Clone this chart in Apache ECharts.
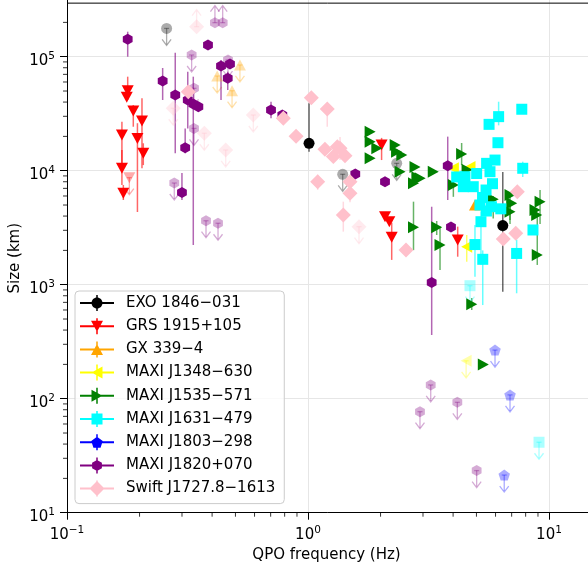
<!DOCTYPE html>
<html>
<head>
<meta charset="utf-8">
<script src="https://cdn.jsdelivr.net/npm/echarts@6/dist/echarts.min.js"></script>
<style>
html, body { margin: 0; padding: 0; background: #fff; }
#chart { width: 588px; height: 568px; }
</style>
</head>
<body>
<div id="chart"></div>
<script>
var FONT = 'DejaVu Sans';

// axis setup (log-log)
var xMin = 0.1, xMax = 100;
var yMin = 10, yMax = 1e6;
var yFrameTop = 2.95e5;          // top spine of the plot
var minorMantissa = [2, 3, 4, 5, 6, 7, 8, 9];
var xDecades = [0.1, 1, 10];
var yDecades = [10, 100, 1000, 10000, 100000];

// data: [QPO freq (Hz), size (km), size low, size high]
var exoDet = [[1.01, 17400, 14700, 39000], [6.43, 3300, 869, 9750]];
var exoUL = [[0.259, 177000], [1.393, 9300], [2.334, 11600]];

var grsDet = [
    [0.1786, 50300, 41700, 66800], [0.177, 44000], [0.1884, 33400, 24300, 37700],
    [0.2047, 27300, 10500, 43200], [0.169, 20600, 10800, 26900], [0.196, 19200, 4340, 26100],
    [0.2073, 14200, 11200, 17400], [0.169, 10500, 7500, 15200], [0.1713, 6340, 5530, 7500],
    [2.02, 16800, 12400, 19400], [2.087, 3950], [2.175, 3570], [2.225, 2610, 1650, 3500],
    [4.18, 2470, 1760, 3230]
];
var grsUL = [[0.1814, 8690]];

var gxDet = [[4.93, 5000]];
var gxUL = [[0.522, 84600], [0.420, 67700], [0.484, 50300]];

var j1348Det = [[4.01, 10500], [4.70, 10800], [4.556, 2150, 1590, 2730]];
var j1348UL = [[4.53, 215]];

var j1535Det = [
    [1.81, 22000], [1.81, 17960], [1.93, 15700], [1.81, 12850],
    [2.30, 16800], [2.33, 14700], [2.45, 13700], [2.78, 10800],
    [2.41, 9800], [2.83, 8750], [2.74, 7750], [2.92, 8570],
    [3.31, 9800], [4.34, 14000, 11200, 17500], [4.01, 7500, 5900, 8500], [4.57, 10200],
    [5.87, 5610, 3800, 6000], [6.89, 6120, 3700, 6500], [7.0, 5180], [6.89, 4370, 3400, 5000],
    [9.18, 5350, 3400, 6770], [8.75, 4520], [8.89, 4090], [8.94, 1820, 1490, 4090],
    [2.74, 3190, 2010, 5350], [3.42, 3190, 2730, 3620], [3.53, 2230, 1345, 3230],
    [4.78, 673, 600, 764], [5.34, 200]
];

var j1631Det = [
    [7.71, 34600], [6.18, 29800, 25000, 40300], [5.64, 25500], [6.14, 17600],
    [5.97, 12400], [5.51, 11600], [7.78, 10500, 8800, 12000], [5.69, 9800],
    [5.01, 9450], [4.48, 8860], [4.14, 8810], [4.41, 7240], [4.85, 7240],
    [5.83, 7690], [5.48, 6770], [5.30, 5820], [5.17, 5000], [5.77, 4830],
    [6.31, 4630], [5.50, 4430], [5.22, 3570, 1500, 4400], [4.93, 2250, 1175, 3340],
    [5.31, 1670, 663, 2000], [7.34, 1880, 841, 2480], [8.58, 3020]
];
var j1631UL = [[9.09, 41.5], [4.70, 980]];

var j1803UL = [[5.97, 267], [6.89, 108], [6.52, 21.4]];

var j1820Det = [
    [0.1786, 142000, 100000, 165700], [0.3846, 126700], [0.4356, 82900, 41700, 93500],
    [0.4745, 86300], [0.4645, 64700, 51000, 73800], [0.2494, 61200, 41700, 79600],
    [0.2813, 46100, 14200, 108400], [0.3170, 41700, 23500, 73800], [0.3342, 38500, 2230, 66800],
    [0.3508, 36400], [0.3093, 15900, 14200, 23500], [0.2999, 6440, 5530, 9540],
    [0.7023, 34100, 28800, 40300], [0.7824, 30800], [1.571, 9350], [2.087, 8010],
    [3.80, 11060, 5530, 19900], [3.92, 3210], [3.26, 1045, 362, 4830]
];
var j1820UL = [
    [0.329, 103500], [0.3365, 52800], [0.3365, 23500], [0.2787, 7800], [0.3774, 3640],
    [0.4233, 3460], [0.4656, 93500], [3.23, 132], [2.915, 76.9], [4.165, 93], [5.01, 23.4]
];
var j1820LL = [[0.411, 198800], [0.4426, 198800]];

var swiftDet = [
    [1.032, 43700], [1.202, 34800, 24300, 37700], [0.892, 20100], [0.790, 28800],
    [1.176, 15400], [1.323, 16200], [1.274, 13300], [1.424, 13500], [1.358, 15700, 12400, 19800],
    [1.097, 8010, 6800, 9200], [1.494, 8010], [1.494, 6340, 5300, 6340], [1.401, 4090, 2920, 5350],
    [2.551, 2020], [7.39, 6540], [6.46, 2520], [7.28, 2820], [0.3186, 49300]
];
var swiftUL = [[0.276, 35300], [0.3713, 21300], [0.4555, 15200], [0.593, 30800], [1.628, 3230]];
var swiftLL = [[0.345, 183400]];

// marker shapes
function regPoly(n, startDeg) {
    var pts = [];
    for (var k = 0; k < n; k++) {
        var a = (startDeg + 360 * k / n) * Math.PI / 180;
        pts.push([Math.cos(a), Math.sin(a)]);
    }
    return pts;
}
function normalize(pts) {
    var x0 = Infinity, x1 = -Infinity, y0 = Infinity, y1 = -Infinity;
    pts.forEach(function (p) {
        x0 = Math.min(x0, p[0]); x1 = Math.max(x1, p[0]);
        y0 = Math.min(y0, p[1]); y1 = Math.max(y1, p[1]);
    });
    return pts.map(function (p) {
        return [2 * (p[0] - x0) / (x1 - x0) - 1, 2 * (p[1] - y0) / (y1 - y0) - 1];
    });
}
var shapes = {
    circle: regPoly(32, 0),
    triDown: [[-1, -1], [1, -1], [0, 1]],
    triUp: [[0, -1], [1, 1], [-1, 1]],
    triLeft: [[-1, 0], [1, -1], [1, 1]],
    triRight: [[1, 0], [-1, 1], [-1, -1]],
    square: [[-1, -1], [1, -1], [1, 1], [-1, 1]],
    diamond: [[0, -1], [1, 0], [0, 1], [-1, 0]],
    pentagon: normalize(regPoly(5, -90)),
    hexagon: normalize(regPoly(6, -90))
};
function polyPath(pts, cx, cy, hw, hh) {
    return pts.map(function (p, i) {
        return (i ? 'L' : 'M') + (cx + p[0] * hw).toFixed(3) + ' ' + (cy + p[1] * hh).toFixed(3);
    }).join('') + 'Z';
}
function symbolOf(shape) {
    if (shape === 'circle') return 'circle';
    return 'path://' + polyPath(shapes[shape], 10, 10, 10, 10);
}
function legendIcon(src) {
    var s = 'M0 7L34 7L34 9L0 9Z M16.25 0L17.75 0L17.75 16L16.25 16Z ';
    s += polyPath(shapes[src.shape], 17, 8, src.size[0] / 2, src.size[1] / 2);
    return 'path://' + s;
}

var sources = [
    {name: 'EXO 1846−031', color: '#000000', shape: 'circle', size: [11, 11], det: exoDet, ul: exoUL, ll: []},
    {name: 'GRS 1915+105', color: '#ff0000', shape: 'triDown', size: [12, 11], det: grsDet, ul: grsUL, ll: []},
    {name: 'GX 339−4', color: '#ffa500', shape: 'triUp', size: [12, 11], det: gxDet, ul: gxUL, ll: []},
    {name: 'MAXI J1348−630', color: '#ffff00', shape: 'triLeft', size: [11, 12], det: j1348Det, ul: j1348UL, ll: []},
    {name: 'MAXI J1535−571', color: '#008000', shape: 'triRight', size: [11, 12], det: j1535Det, ul: [], ll: []},
    {name: 'MAXI J1631−479', color: '#00ffff', shape: 'square', size: [11, 11], det: j1631Det, ul: j1631UL, ll: []},
    {name: 'MAXI J1803−298', color: '#0000ff', shape: 'pentagon', size: [11.5, 11], det: [], ul: j1803UL, ll: []},
    {name: 'MAXI J1820+070', color: '#800080', shape: 'hexagon', size: [9.8, 11], det: j1820Det, ul: j1820UL, ll: j1820LL},
    {name: 'Swift J1727.8−1613', color: '#ffc0cb', shape: 'diamond', size: [15, 15], det: swiftDet, ul: swiftUL, ll: swiftLL}
];

var LIM_ALPHA = 0.33;

function errBarSeries(src) {
    var d = src.det.filter(function (p) { return p[2] != null; });
    return {
        type: 'custom', silent: true, data: d,
        renderItem: function (params, api) {
            var a = api.coord([api.value(0), api.value(2)]);
            var b = api.coord([api.value(0), api.value(3)]);
            return {type: 'line', shape: {x1: a[0], y1: a[1], x2: b[0], y2: b[1]},
                style: {stroke: src.color, lineWidth: 1.5, opacity: 0.6}};
        }
    };
}
function limitArrowSeries(src, pts, dir) {
    return {
        type: 'custom', silent: true, data: pts,
        renderItem: function (params, api) {
            var p = api.coord([api.value(0), api.value(1)]);
            var st = {stroke: src.color, lineWidth: 1.3, opacity: LIM_ALPHA, fill: null};
            return {type: 'group', children: [
                {type: 'line', shape: {x1: p[0], y1: p[1], x2: p[0], y2: p[1] + 16 * dir}, style: st},
                {type: 'line', shape: {x1: p[0] - 2.5, y1: p[1], x2: p[0] + 2.5, y2: p[1]}, style: st},
                {type: 'polyline', shape: {points: [[p[0] - 4.5, p[1] + 11 * dir], [p[0], p[1] + 17 * dir], [p[0] + 4.5, p[1] + 11 * dir]]}, style: st}
            ]};
        }
    };
}
function limitMarkerSeries(src, pts) {
    return {
        type: 'scatter', data: pts, symbol: symbolOf(src.shape), symbolSize: src.size,
        itemStyle: {color: src.color, opacity: LIM_ALPHA}, silent: true
    };
}

// minor ticks
var xMinor = [], yMinor = [];
xDecades.forEach(function (d) { minorMantissa.forEach(function (m) { xMinor.push(m * d); }); });
yDecades.forEach(function (d) { minorMantissa.forEach(function (m) { if (m * d < yFrameTop) yMinor.push(m * d); }); });

var series = [];
series.push({
    type: 'custom', silent: true, clip: false, data: xMinor.map(function (v) { return [v, yMin]; }),
    renderItem: function (params, api) {
        var p = api.coord([api.value(0), api.value(1)]);
        return {type: 'line', shape: {x1: p[0], y1: p[1], x2: p[0], y2: p[1] + 4}, style: {stroke: '#000', lineWidth: 0.8}};
    }
});
series.push({
    type: 'custom', silent: true, clip: false, data: yMinor.map(function (v) { return [xMin, v]; }),
    renderItem: function (params, api) {
        var p = api.coord([api.value(0), api.value(1)]);
        return {type: 'line', shape: {x1: p[0] - 4, y1: p[1], x2: p[0], y2: p[1]}, style: {stroke: '#000', lineWidth: 0.8}};
    }
});

sources.forEach(function (src) {
    if (src.det.some(function (p) { return p[2] != null; })) series.push(errBarSeries(src));
    series.push({
        type: 'scatter', name: src.name,
        data: src.det.map(function (p) { return [p[0], p[1]]; }),
        symbol: symbolOf(src.shape), symbolSize: src.size,
        itemStyle: {color: src.color, opacity: 1}
    });
    if (src.ul.length) {
        series.push(limitMarkerSeries(src, src.ul));
        series.push(limitArrowSeries(src, src.ul, 1));
    }
    if (src.ll.length) {
        series.push(limitMarkerSeries(src, src.ll));
        series.push(limitArrowSeries(src, src.ll, -1));
    }
});

function powLabel(v) {
    var e = Math.round(Math.log(v) / Math.LN10);
    return '{b|10}{e|' + (e < 0 ? '−' + (-e) : e) + '}';
}
var labelRich = {
    b: {fontSize: 15, fontFamily: FONT, color: '#000', lineHeight: 18, verticalAlign: 'bottom'},
    e: {fontSize: 10.5, fontFamily: FONT, color: '#000', lineHeight: 10, verticalAlign: 'top'}
};
function axisCommon() {
    return {
        type: 'log', logBase: 10,
        nameLocation: 'middle', nameMoveOverlap: false,
        axisLine: {show: true, onZero: false, lineStyle: {color: '#000', width: 1}},
        axisTick: {show: true, inside: false, length: 7, lineStyle: {color: '#000', width: 1}},
        splitLine: {show: true, lineStyle: {color: '#e6e6e6', width: 1}},
        minorTick: {show: false}, minorSplitLine: {show: false}
    };
}
// the grid runs past the visible canvas, so the axis names are padded back to the visible centre
var xAxis = axisCommon();
xAxis.min = xMin; xAxis.max = xMax;
xAxis.name = 'QPO frequency (Hz)';
xAxis.nameGap = 35;
xAxis.nameTextStyle = {fontSize: 15, fontFamily: FONT, color: '#000', padding: [0, 204, 0, 0]};
xAxis.axisLabel = {formatter: powLabel, rich: labelRich, margin: 12};
var yAxis = axisCommon();
yAxis.min = yMin; yAxis.max = yMax;
yAxis.name = 'Size (km)';
yAxis.nameGap = 44;
yAxis.nameTextStyle = {fontSize: 15, fontFamily: FONT, color: '#000', padding: [0, 61, 0, 0]};
yAxis.axisLabel = {formatter: powLabel, rich: labelRich, margin: 12, padding: [6, 0, 0, 0]};

var chart = echarts.init(document.getElementById('chart'), null, {renderer: 'canvas'});
chart.setOption({
    animation: false,
    backgroundColor: '#ffffff',
    textStyle: {fontFamily: FONT},
    grid: {left: 67, right: -202, top: -57.3, bottom: 55.3, containLabel: false, outerBoundsMode: 'none'},
    xAxis: xAxis,
    yAxis: yAxis,
    legend: {
        orient: 'vertical', left: 75, top: 291,
        padding: [4, 9, 7, 5],
        itemWidth: 34, itemHeight: 16, itemGap: 7.2,
        backgroundColor: 'rgba(255,255,255,0.8)',
        borderColor: '#cccccc', borderWidth: 1, borderRadius: 4,
        selectedMode: false,
        data: sources.map(function (s) { return {name: s.name, icon: legendIcon(s)}; }),
        formatter: function (name) { return '{t|' + name + '}'; },
        textStyle: {rich: {t: {fontSize: 15, fontFamily: FONT, color: '#000', lineHeight: 16, padding: [0, 0, 0, 7]}}}
    },
    series: series
});

// top spine of the frame
var yTopPx = chart.convertToPixel({yAxisIndex: 0}, yFrameTop);
var xLeftPx = chart.convertToPixel({xAxisIndex: 0}, xMin);
chart.setOption({
    graphic: [{type: 'line', z: 10, shape: {x1: xLeftPx, y1: yTopPx, x2: 588, y2: yTopPx},
        style: {stroke: '#000', lineWidth: 1}}]
});
</script>
</body>
</html>
